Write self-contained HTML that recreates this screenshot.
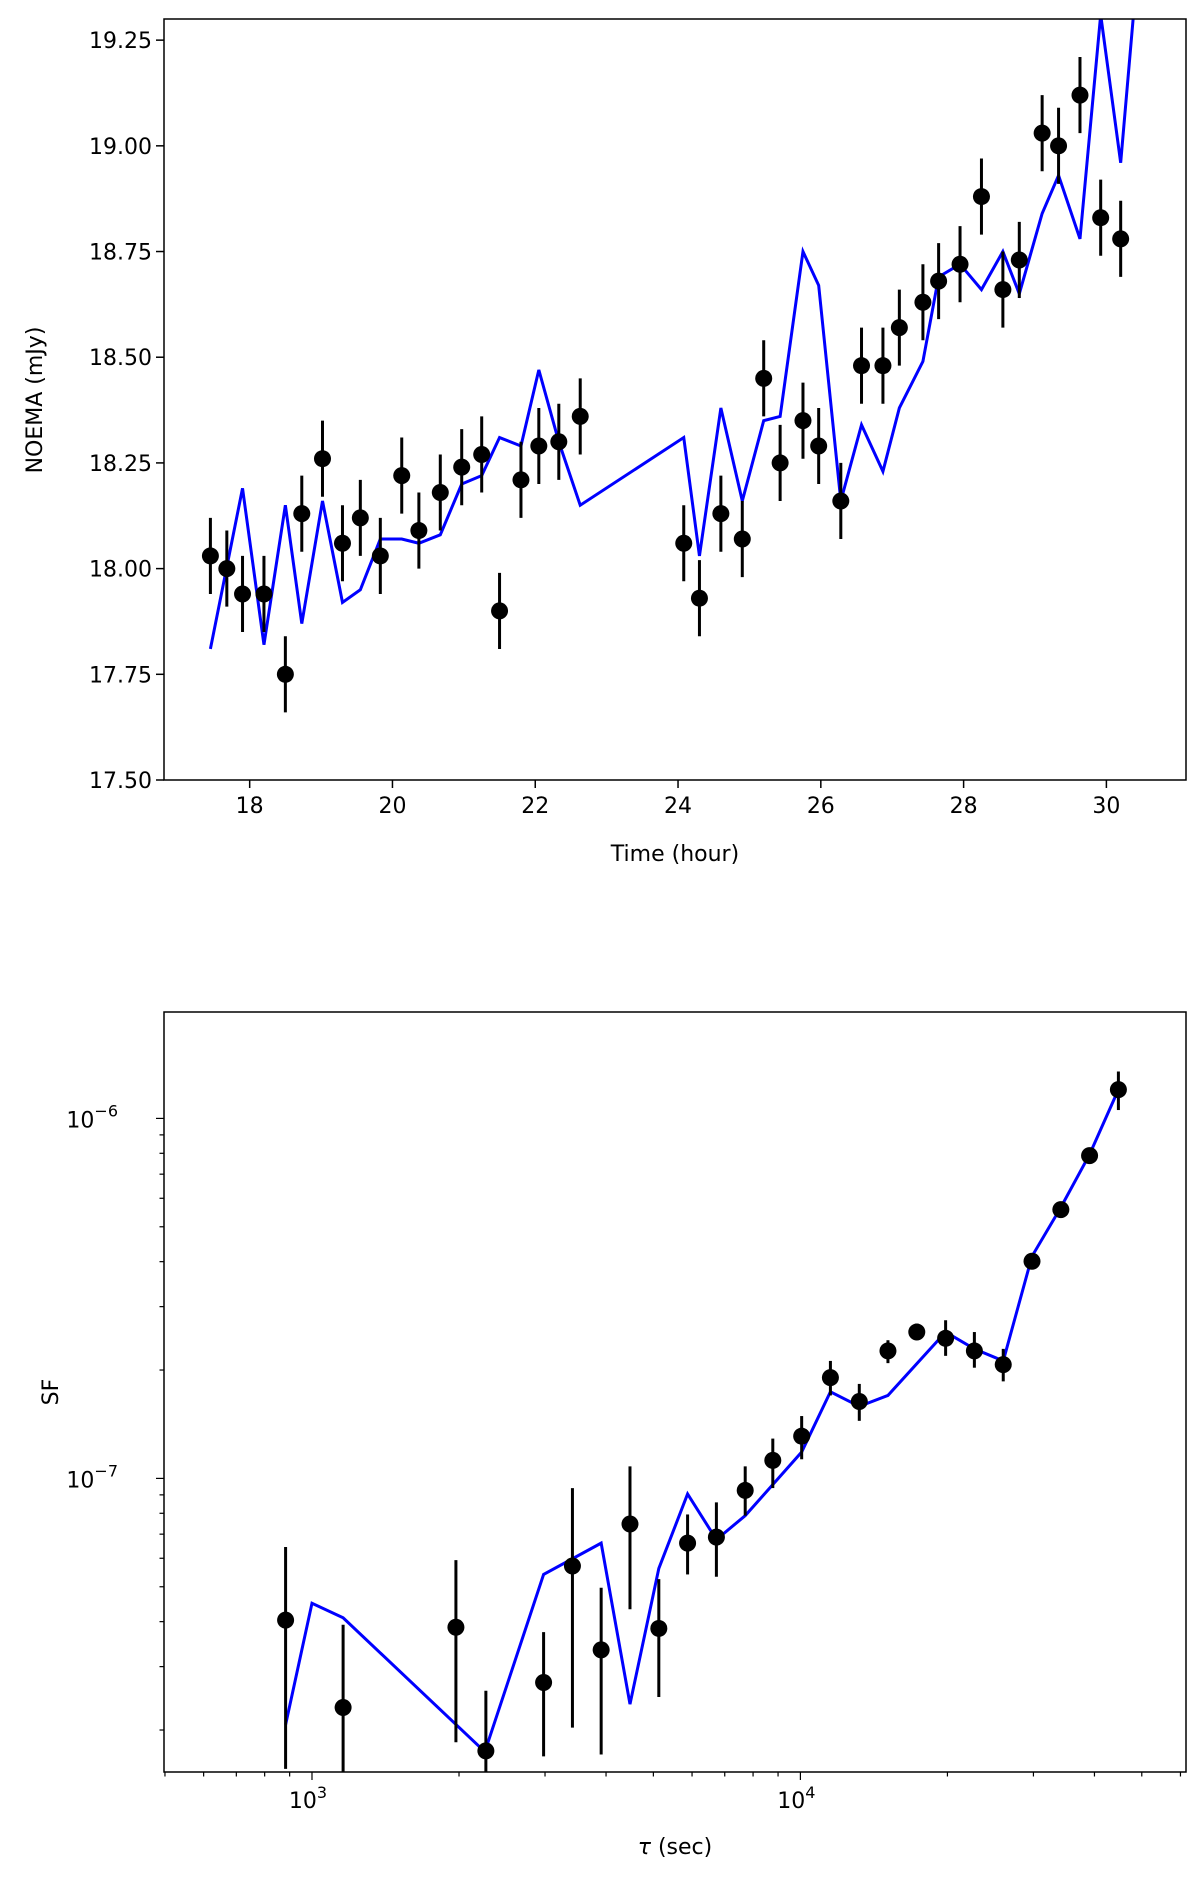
<!DOCTYPE html>
<html><head><meta charset="utf-8"><style>
body{margin:0;background:#fff}
svg text{font-family:"DejaVu Sans","Liberation Sans",sans-serif;fill:#000}
</style></head><body>
<svg id="c" width="1200" height="1874" xmlns="http://www.w3.org/2000/svg"></svg>
<script>
// ---- Top panel data ----
const timeH=[17.45,17.68,17.9,18.2,18.5,18.73,19.02,19.3,19.55,19.83,20.13,20.37,20.67,20.97,21.25,21.5,21.8,22.05,22.33,22.63,24.08,24.3,24.6,24.9,25.2,25.43,25.75,25.97,26.28,26.57,26.87,27.1,27.43,27.65,27.95,28.25,28.55,28.78,29.1,29.33,29.63,29.92,30.2];
const flux=[18.03,18.0,17.94,17.94,17.75,18.13,18.26,18.06,18.12,18.03,18.22,18.09,18.18,18.24,18.27,17.9,18.21,18.29,18.3,18.36,18.06,17.93,18.13,18.07,18.45,18.25,18.35,18.29,18.16,18.48,18.48,18.57,18.63,18.68,18.72,18.88,18.66,18.73,19.03,19.0,19.12,18.83,18.78];
const fluxErr=0.09;
const modelT=[17.45,17.9,18.2,18.5,18.73,19.02,19.3,19.55,19.83,20.13,20.37,20.67,20.97,21.25,21.5,21.8,22.05,22.33,22.63,24.08,24.3,24.6,24.9,25.2,25.43,25.75,25.97,26.28,26.57,26.87,27.1,27.43,27.65,27.95,28.25,28.55,28.78,29.1,29.33,29.63,29.92,30.2,30.4];
const modelF=[17.81,18.19,17.82,18.15,17.87,18.16,17.92,17.95,18.07,18.07,18.06,18.08,18.2,18.22,18.31,18.29,18.47,18.3,18.15,18.31,18.03,18.38,18.16,18.35,18.36,18.75,18.67,18.16,18.34,18.23,18.38,18.49,18.69,18.72,18.66,18.75,18.65,18.84,18.93,18.78,19.31,18.96,19.35];
const yTicksTop=[17.5,17.75,18.0,18.25,18.5,18.75,19.0,19.25];
const xTicksTop=[18,20,22,24,26,28,30];
// ---- Bottom panel data ----
const tau=[883,1158,1971,2270,2980,3414,3909,4478,5130,5875,6730,7709,8780,10060,11520,13200,15110,17310,19830,22710,26020,29800,34140,39090,44780];
const sf=[4.04e-8,2.31e-8,3.86e-8,1.75e-8,2.71e-8,5.71e-8,3.34e-8,7.47e-8,3.83e-8,6.61e-8,6.87e-8,9.26e-8,1.122e-7,1.31e-7,1.905e-7,1.635e-7,2.26e-7,2.55e-7,2.45e-7,2.26e-7,2.07e-7,4.01e-7,5.58e-7,7.88e-7,1.202e-6];
const sfHi=[6.45e-8,3.92e-8,5.93e-8,2.57e-8,3.74e-8,9.4e-8,4.97e-8,1.08e-7,5.25e-8,7.94e-8,8.58e-8,1.08e-7,1.29e-7,1.49e-7,2.12e-7,1.83e-7,2.42e-7,2.69e-7,2.75e-7,2.55e-7,2.29e-7,4.2e-7,5.84e-7,8.26e-7,1.35e-6];
const sfLo=[1.56e-8,1.4e-8,1.85e-8,1.2e-8,1.69e-8,2.03e-8,1.71e-8,4.33e-8,2.47e-8,5.41e-8,5.33e-8,7.88e-8,9.4e-8,1.13e-7,1.7e-7,1.445e-7,2.09e-7,2.44e-7,2.19e-7,2.03e-7,1.86e-7,3.83e-7,5.33e-7,7.47e-7,1.055e-6];
const modelTau=[883,1000,1158,2259,2980,3909,4478,5130,5875,6730,7709,10060,11520,13200,15110,19830,22710,26020,29800,34140,39090,44780];
const modelSF=[2.07e-8,4.5e-8,4.1e-8,1.74e-8,5.41e-8,6.61e-8,2.36e-8,5.62e-8,9.05e-8,6.76e-8,7.88e-8,1.184e-7,1.74e-7,1.585e-7,1.7e-7,2.55e-7,2.29e-7,2.12e-7,4.14e-7,5.66e-7,7.94e-7,1.202e-6];

const NS="http://www.w3.org/2000/svg";
const svg=document.getElementById('c');
function el(tag,attrs,parent){const e=document.createElementNS(NS,tag);for(const k in attrs)e.setAttribute(k,attrs[k]);(parent||svg).appendChild(e);return e;}
const FS=22;

// ---- Top panel ----
const T={l:164,r:1186,t:19,b:780,x0:16.80,x1:31.115,y0:17.5,y1:19.30};
const tx=v=>T.l+(v-T.x0)/(T.x1-T.x0)*(T.r-T.l);
const ty=v=>T.b-(v-T.y0)/(T.y1-T.y0)*(T.b-T.t);
const gTop=el('g',{});


const cpT=el('clipPath',{id:'cpT'},gTop);el('rect',{x:T.l,y:T.t,width:T.r-T.l,height:T.b-T.t},cpT);
const mLine=el('polyline',{points:modelT.map((t,i)=>tx(t)+','+ty(modelF[i])).join(' '),fill:'none',stroke:'#0000ff','stroke-width':3,'clip-path':'url(#cpT)'},gTop);


timeH.forEach((t,i)=>{
  const e=el('line',{x1:tx(t),x2:tx(t),y1:ty(flux[i]+fluxErr),y2:ty(flux[i]-fluxErr),stroke:'#000','stroke-width':3},gTop);
  
  
  const c=el('circle',{cx:tx(t),cy:ty(flux[i]),r:8.5,fill:'#000'},gTop);
  
  
});
const fT=el('rect',{x:T.l,y:T.t,width:T.r-T.l,height:T.b-T.t,fill:'none',stroke:'#000','stroke-width':1.5},gTop);


yTicksTop.forEach(v=>{
  el('line',{x1:T.l-8,x2:T.l,y1:ty(v),y2:ty(v),stroke:'#000','stroke-width':1.5},gTop);
  const t=el('text',{x:T.l-12,y:ty(v)+8,'text-anchor':'end','font-size':FS},gTop);t.textContent=v.toFixed(2);
  
  
});
xTicksTop.forEach(v=>{
  el('line',{x1:tx(v),x2:tx(v),y1:T.b,y2:T.b+8,stroke:'#000','stroke-width':1.5},gTop);
  const t=el('text',{x:tx(v),y:T.b+33,'text-anchor':'middle','font-size':FS},gTop);t.textContent=v;
  
  
});
let t1=el('text',{x:(T.l+T.r)/2,y:861,'text-anchor':'middle','font-size':FS},gTop);t1.textContent='Time (hour)';


t1=el('text',{x:0,y:0,'text-anchor':'middle','font-size':FS,transform:'translate(42,400) rotate(-90)'},gTop);t1.textContent='NOEMA (mJy)';



// ---- Bottom panel ----
const B={l:164,r:1186,t:1012,b:1772,lx0:2.697,lx1:4.7895,ly0:-7.8156,ly1:-5.7044};
const bx=v=>B.l+(Math.log10(v)-B.lx0)/(B.lx1-B.lx0)*(B.r-B.l);
const by=v=>B.b-(Math.log10(v)-B.ly0)/(B.ly1-B.ly0)*(B.b-B.t);
const gB=el('g',{});


const cp=el('clipPath',{id:'cpB'},gB);el('rect',{x:B.l,y:B.t,width:B.r-B.l,height:B.b-B.t},cp);
const bl=el('polyline',{points:modelTau.map((t,i)=>bx(t)+','+by(modelSF[i])).join(' '),fill:'none',stroke:'#0000ff','stroke-width':3,'clip-path':'url(#cpB)'},gB);


tau.forEach((t,i)=>{
  const e=el('line',{x1:bx(t),x2:bx(t),y1:by(sfHi[i]),y2:by(sfLo[i]),stroke:'#000','stroke-width':3,'clip-path':'url(#cpB)'},gB);
  
  
  const c=el('circle',{cx:bx(t),cy:by(sf[i]),r:8.5,fill:'#000'},gB);
  
  
});
const fB=el('rect',{x:B.l,y:B.t,width:B.r-B.l,height:B.b-B.t,fill:'none',stroke:'#000','stroke-width':1.5},gB);


for(let d=2;d<=4;d++)for(let m=1;m<10;m++){const v=m*Math.pow(10,d);const lv=Math.log10(v);if(lv<B.lx0||lv>B.lx1)continue;
  el('line',{x1:bx(v),x2:bx(v),y1:B.b,y2:B.b+(m===1?8:4.5),stroke:'#000','stroke-width':1.2},gB);
  if(m===1){const t=el('text',{x:bx(v)-4,y:B.b+36,'text-anchor':'middle','font-size':FS},gB);t.textContent='10';
    const s=el('tspan',{dy:-10,'font-size':16},t);s.textContent=String(d);
    
    }}
for(let d=-8;d<=-6;d++)for(let m=1;m<10;m++){const v=m*Math.pow(10,d);const lv=Math.log10(v);if(lv<B.ly0||lv>B.ly1)continue;
  el('line',{x1:B.l-(m===1?8:4.5),x2:B.l,y1:by(v),y2:by(v),stroke:'#000','stroke-width':1.2},gB);
  if(m===1){const t=el('text',{x:B.l-46,y:by(v)+9,'text-anchor':'end','font-size':FS},gB);t.textContent='10';
    const s=el('tspan',{dy:-11,'font-size':16},t);s.textContent='−'+(-d);
    
    }}
t1=el('text',{x:(B.l+B.r)/2,y:1854,'text-anchor':'middle','font-size':FS},gB);
const tt=el('tspan',{'font-style':'italic'},t1);tt.textContent='τ';
const t2=el('tspan',{},t1);t2.textContent=' (sec)';


t1=el('text',{x:0,y:0,'text-anchor':'middle','font-size':FS,transform:'translate(58,1392) rotate(-90)'},gB);t1.textContent='SF';


</script>
</body></html>
